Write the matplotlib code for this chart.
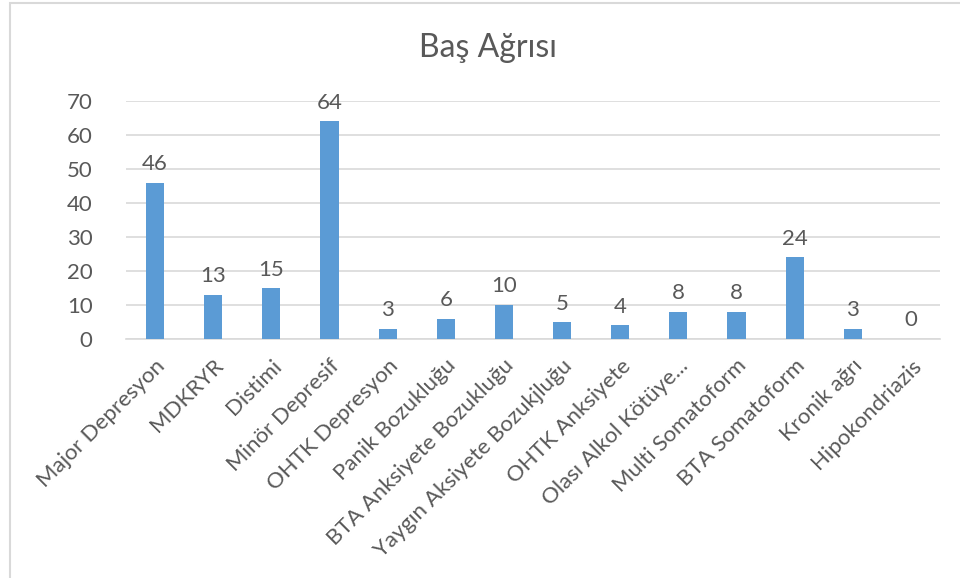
import matplotlib.pyplot as plt
from matplotlib.patches import Rectangle

plt.rcParams['font.family'] = ['Lato', 'DejaVu Sans']

# Baş ağrısı görülen tanılar ve hasta sayıları
categories = ['Major Depresyon', 'MDKRYR', 'Distimi', 'Minör Depresif', 'OHTK Depresyon',
              'Panik Bozukluğu', 'BTA Anksiyete Bozukluğu', 'Yaygın Aksiyete Bozukjluğu',
              'OHTK Anksiyete', 'Olası Alkol Kötüye...', 'Multi Somatoform',
              'BTA Somatoform', 'Kronik ağrı', 'Hipokondriazis']
values = [46, 13, 15, 64, 3, 6, 10, 5, 4, 8, 8, 24, 3, 0]
yticks = [0, 10, 20, 30, 40, 50, 60, 70]

text_color = '#595959'
bar_color = '#5B9BD5'
grid_color = '#D9D9D9'

fig = plt.figure(figsize=(9.6, 5.78), dpi=100)
ax = fig.add_axes([126 / 960, 1 - 339 / 578, 814 / 960, 238 / 578])

# chart frame
fig.patches.append(Rectangle((10 / 960, -0.01), 1.0, 1 - 3 / 578 + 0.01,
                             transform=fig.transFigure, fill=False,
                             edgecolor=grid_color, linewidth=1.5))

x = range(len(categories))
bars = ax.bar(x, values, width=0.31, color=bar_color, zorder=3)
for i, v in enumerate(values):
    ax.text(i, v + 2.5, str(v), ha='center', va='bottom', fontsize=16, color=text_color)

ax.set_xlim(-0.5, len(categories) - 0.5)
ax.set_ylim(0, 70)
ax.set_yticks(yticks)
ax.yaxis.grid(True, color=grid_color, linewidth=1.2, zorder=0)
ax.tick_params(axis='y', length=0, pad=24, labelsize=16, labelcolor=text_color)
ax.tick_params(axis='x', length=0, pad=12)
ax.set_xticks(list(x))
ax.set_xticklabels(categories, rotation=45, ha='right', va='top', rotation_mode='anchor',
                   fontsize=16, color=text_color)

for side in ['top', 'right', 'left']:
    ax.spines[side].set_visible(False)
ax.spines['bottom'].set_color(grid_color)
ax.spines['bottom'].set_linewidth(1.2)

fig.text(488 / 960, 1 - 48 / 578, 'Baş Ağrısı', ha='center', va='center',
         fontsize=23, color=text_color)

fig.savefig('out.png', dpi=100)
